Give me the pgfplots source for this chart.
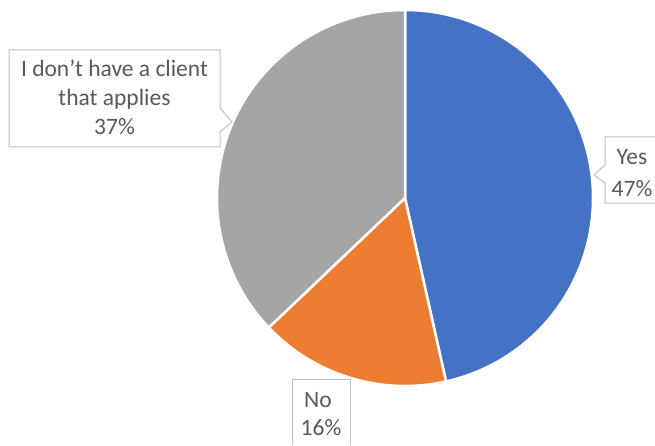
\documentclass[border=0pt]{standalone}
\usepackage{pgfplots}
\pgfplotsset{compat=1.18}
\usepackage{fontspec}
\setmainfont{Carlito}
\definecolor{cyes}{HTML}{4472C4}
\definecolor{cno}{HTML}{ED7D31}
\definecolor{cna}{HTML}{A5A5A5}
\definecolor{ctext}{HTML}{595959}
\definecolor{cbox}{HTML}{BFBFBF}
% shares (percent)
\def\pYes{46.5}
\def\pNo{16.4}
\def\pNA{37.1}
\begin{document}
\begin{tikzpicture}
\begin{axis}[name=ax,width=655pt,height=445pt,scale only axis,
  xmin=0,xmax=655,ymin=0,ymax=445,hide axis,clip=false]
% slices
\fill[cyes,draw=white,line width=2.5pt,line join=round] (axis cs:405,247) -- ++(90:188pt)
  arc[start angle=90,end angle={90-\pYes*3.6},radius=188pt] -- cycle;
\fill[cno,draw=white,line width=2.5pt,line join=round] (axis cs:405,247) -- ++({90-\pYes*3.6}:188pt)
  arc[start angle={90-\pYes*3.6},end angle={90-(\pYes+\pNo)*3.6},radius=188pt] -- cycle;
\fill[cna,draw=white,line width=2.5pt,line join=round] (axis cs:405,247) -- ++({90-(\pYes+\pNo)*3.6}:188pt)
  arc[start angle={90-(\pYes+\pNo)*3.6},end angle={90-(\pYes+\pNo+\pNA)*3.6},radius=188pt] -- cycle;
% callouts
\draw[cbox,line width=1pt,fill=white] (axis cs:9,395)--(axis cs:220,395)--(axis cs:220,337)--(axis cs:232,323)--(axis cs:220,313)--(axis cs:220,298)--(axis cs:9,298)--cycle;
\draw[cbox,line width=1pt,fill=white] (axis cs:655,308)--(axis cs:605,308)--(axis cs:605,280)--(axis cs:594,270)--(axis cs:605,262)--(axis cs:605,242)--(axis cs:655,242);
\draw[cbox,line width=1pt] (axis cs:292,0)--(axis cs:292,66)--(axis cs:350,66)--(axis cs:350,0);
% labels
\begin{scope}[every node/.style={text=ctext,font=\fontsize{23.5}{28}\selectfont,anchor=base,inner sep=0pt}]
\node at (axis cs:114.5,368) {I don’t have a client};
\node at (axis cs:114.5,339) {that applies};
\node at (axis cs:114.5,310) {37\%};
\node at (axis cs:632,280) {Yes};
\node at (axis cs:632,249) {47\%};
\node at (axis cs:318,38) {No};
\node at (axis cs:321,10) {16\%};
\end{scope}
\end{axis}
\pgfresetboundingbox
\path[use as bounding box] (ax.south west) rectangle (ax.north east);
\end{tikzpicture}
\end{document}
